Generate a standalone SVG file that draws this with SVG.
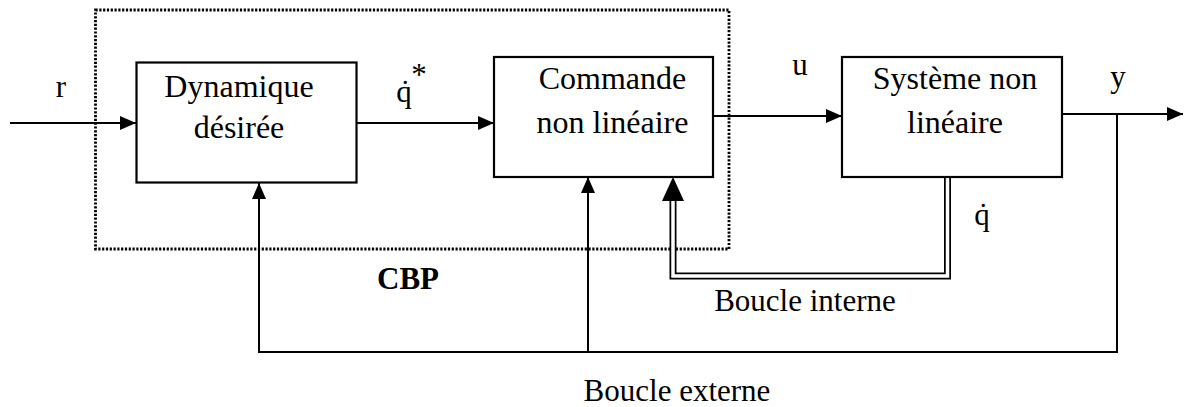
<svg xmlns="http://www.w3.org/2000/svg" width="1194" height="407" viewBox="0 0 1194 407">
<style>
.box{fill:#fff;stroke:#000;stroke-width:2.2}
.ln{fill:none;stroke:#000;stroke-width:2}
.t{font-family:"Liberation Serif","Times New Roman",serif;font-size:32px;fill:#000;text-anchor:middle}
.l{font-family:"Liberation Serif","Times New Roman",serif;font-size:31px;fill:#000;text-anchor:middle}
</style>
<defs>
<marker id="ar" markerUnits="userSpaceOnUse" markerWidth="17" markerHeight="15" refX="16" refY="7" orient="auto">
<path d="M0,0 L16,7 L0,14 z" fill="#000"/>
</marker>
</defs>
<rect id="cbp" x="95.5" y="10" width="633.5" height="239" fill="none" stroke="#000" stroke-width="2.8" stroke-dasharray="2.2 1.6"/>
<g id="connectors">
<line class="ln" x1="10" y1="123" x2="136" y2="123" marker-end="url(#ar)"/>
<line class="ln" x1="357" y1="123" x2="494" y2="123" marker-end="url(#ar)"/>
<line class="ln" x1="713" y1="116" x2="842" y2="116" marker-end="url(#ar)"/>
<line class="ln" x1="1062" y1="114" x2="1183" y2="114" marker-end="url(#ar)"/>
<polyline class="ln" points="1117,114 1117,352 259,352 259,183" marker-end="url(#ar)"/>
<line class="ln" x1="588" y1="352" x2="588" y2="177" marker-end="url(#ar)"/>
<path d="M947.5,177 V276 H673 V200" fill="none" stroke="#000" stroke-width="7"/>
<path d="M947.5,176 V276 H673 V201" fill="none" stroke="#fff" stroke-width="3.5"/>
<polygon points="673,177 684,201 662,201" fill="#000"/>
</g>
<g id="dyn">
<rect class="box" x="136.5" y="62.5" width="220" height="120"/>
<text class="t" x="239" y="97">Dynamique</text>
<text class="t" x="239" y="138">désirée</text>
</g>
<g id="cmd">
<rect class="box" x="494" y="57" width="219" height="120"/>
<text class="t" x="612.5" y="89">Commande</text>
<text class="t" x="612.5" y="133">non linéaire</text>
</g>
<g id="sys">
<rect class="box" x="842" y="57" width="220" height="120"/>
<text class="t" x="955" y="89">Système non</text>
<text class="t" x="955" y="133">linéaire</text>
</g>
<g id="labels">
<text class="l" x="404" y="102">q̇</text>
<text class="l" x="419" y="85" font-size="12">*</text>
<text class="l" x="61" y="97">r</text>
<text class="l" x="800" y="75">u</text>
<text class="l" x="1118" y="87">y</text>
<text class="l" x="982" y="225">q̇</text>
<text class="l" x="408" y="289" font-weight="bold">CBP</text>
<text class="l" x="805" y="311">Boucle interne</text>
<text class="l" x="677" y="401">Boucle externe</text>
</g>
</svg>
